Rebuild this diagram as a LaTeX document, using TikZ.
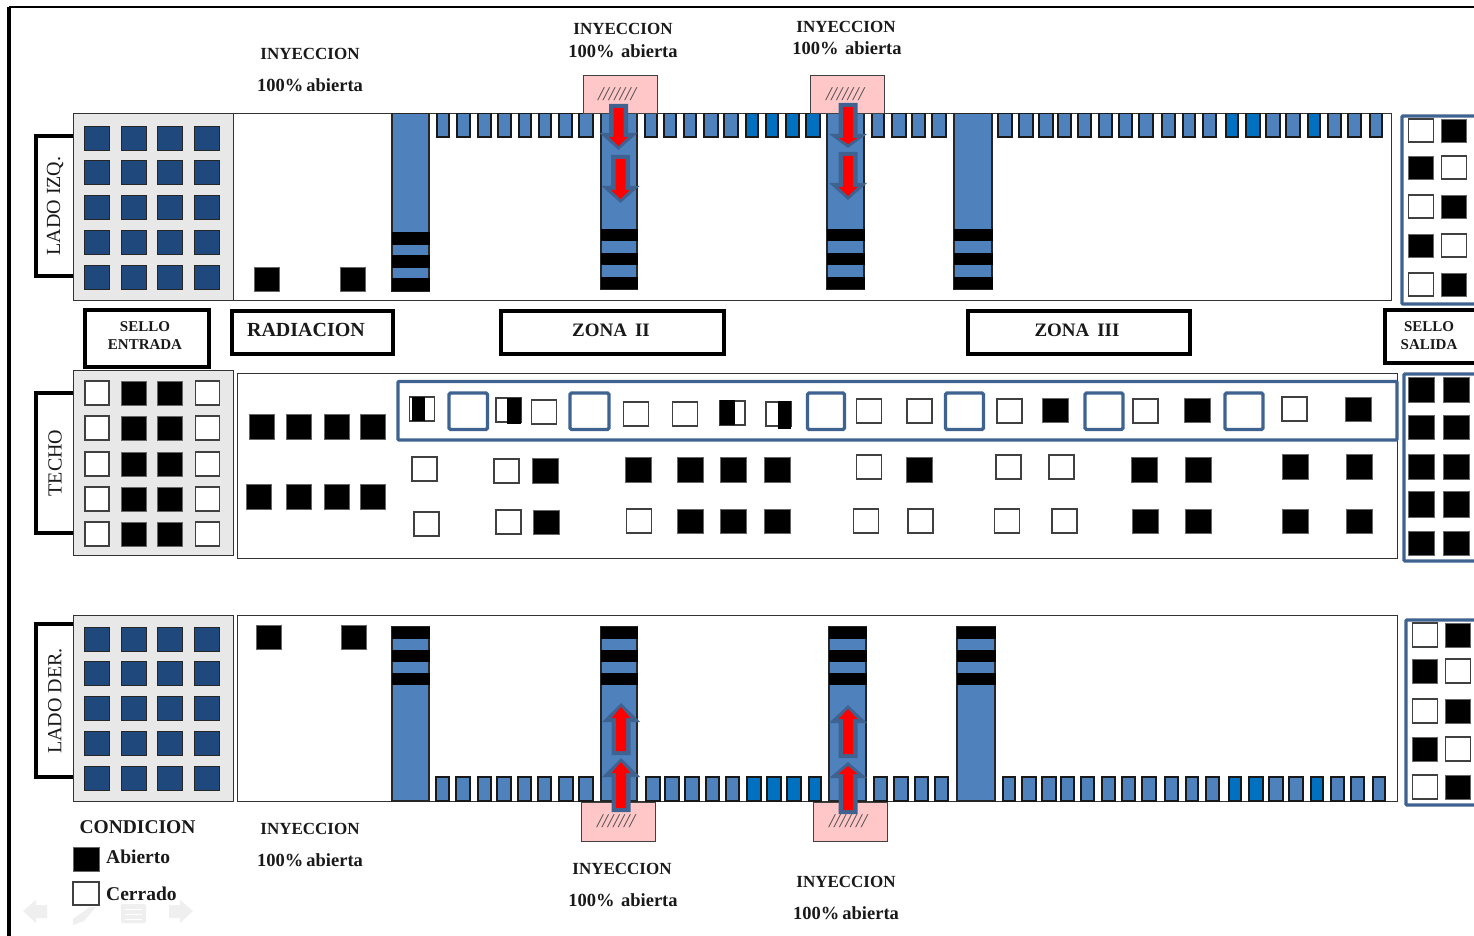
\documentclass[tikz,border=0pt]{standalone}
\usepackage{fontspec}
\setmainfont{Liberation Serif}
\usepackage{tikz}
\usetikzlibrary{positioning}
\definecolor{blockgrey}{HTML}{E8E8E8}
\definecolor{valveblue}{HTML}{1F497D}
\definecolor{colblue}{HTML}{4F81BD}
\definecolor{slotdark}{HTML}{0070C0}
\definecolor{framblue}{HTML}{3F6391}
\definecolor{pinkbox}{HTML}{FFC7C7}
\definecolor{navgrey}{HTML}{EFEFEF}
\tikzset{
  bandbox/.style={draw=black!80, line width=1pt, fill=white},
  greybox/.style={draw=black!80, line width=1pt, fill=blockgrey},
  valvedark/.style={draw=black!85, line width=0.9pt, fill=valveblue},
  valveopen/.style={draw=black!60, line width=0.6pt, fill=black},
  valveshut/.style={draw=black!75, line width=1.1pt, fill=white},
  bigvalve/.style={draw=framblue, line width=3.4pt, fill=none, rounded corners=1.5pt},
  bluerim/.style={draw=framblue, line width=3.4pt, fill=none, rounded corners=1pt},
  slotbar/.style={draw=black!90, line width=1.3pt, fill=colblue},
  slotdeep/.style={draw=black!90, line width=1.3pt, fill=slotdark},
  colbar/.style={draw=black!85, line width=1.2pt, fill=colblue},
  pinkinj/.style={draw=black!75, line width=1pt, fill=pinkbox},
  labelbox/.style={draw=black, line width=3.4pt, fill=white},
  sidebox/.style={draw=black, line width=3.4pt},
  boldtxt/.style={font=\fontsize{#1}{#1}\selectfont\bfseries, inner sep=0pt, text=black!90},
  sidetxt/.style={font=\fontsize{20}{20}\selectfont, inner sep=0pt, rotate=90, text=black!90},
  hatchtxt/.style={font=\fontsize{19.5}{20}\selectfont\itshape, inner sep=0pt, text=black!70},
  navicon/.style={fill=navgrey, draw=none}
}
% columna con tres bandas negras
\newcommand{\colbands}[8]{
    \draw[colbar] (#1,#3) rectangle (#2,#4);
    \foreach \b in {#5,#6,#7} {
        \fill[black] (#1-0.5,\b) rectangle (#2+0.5,\b+#8);
    }
}
% flecha de inyeccion (x, inicio, base de punta, punta)
\newcommand{\injarrow}[4]{
    \pgfmathsetmacro{\sg}{#3>#2 ? 1 : -1}
    \fill[framblue] (#1-9.5,#2) -- (#1+9.5,#2) -- (#1+9.5,#3) -- (#1+19,#3) -- (#1,#4) -- (#1-19,#3) -- (#1-9.5,#3) -- cycle;
    \fill[red] (#1-5,#2+4*\sg) -- (#1+5,#2+4*\sg) -- (#1+5,#3+4*\sg) -- (#1+9.5,#3+4*\sg) -- (#1,#4-4*\sg) -- (#1-9.5,#3+4*\sg) -- (#1-5,#3+4*\sg) -- cycle;
}
% texto de inyeccion en dos lineas
\newcommand{\inylabel}[6]{
    \node[boldtxt=17] (iny#1) at (#2,#3) {INYECCION};
    \node[boldtxt=18.5] (pct#1) at (#4,#5) {#6};
}
\begin{document}
\begin{tikzpicture}[x=1pt, y=-1pt]
    \clip (0,0) rectangle (1474,936);
    \fill[white] (0,0) rectangle (1474,936);

    % Marco exterior
    \draw[black, line width=4pt] (9,936) -- (9,7);
    \draw[black, line width=2pt] (9,7) -- (1474,7);

    % ==========================================
    % 1. LADO IZQ.
    % ==========================================
    \draw[sidebox] (73,136) -- (36,136) -- (36,276) -- (73,276);
    \node[sidetxt] (ladoizq) at (55,206) {LADO IZQ.};
    \draw[bandbox] (73,113.5) rectangle (1391,300);
    \draw[greybox] (73,113.5) rectangle (233,300);
    \foreach \y in {126,160,195,230,265}
        \foreach \x in {84.5,121.5,157.5,194.5}
            \draw[valvedark] (\x,\y) rectangle ++(25,24);
    \foreach \x in {254,340}
        \draw[valveopen] (\x,267) rectangle ++(25,24);

    \foreach \a/\b in {437/449, 457/470, 478/491, 498/511, 519/531, 539/551, 559/572, 579/593,
        645/657, 664/676, 684/696, 704/718, 724/738, 872/884, 892/906, 912/925, 932/946,
        998/1012, 1019/1033, 1039/1053, 1058/1071, 1078/1091, 1099/1112, 1119/1132, 1139/1153,
        1162/1175, 1183/1195, 1203/1216, 1266/1280, 1286/1300, 1328/1341, 1348/1361, 1370/1382}
        \draw[slotbar] (\a,113.5) rectangle (\b,137);
    \foreach \a/\b in {746/758, 766/778, 786/799, 806/820, 1226/1238, 1246/1260, 1308/1320}
        \draw[slotdeep] (\a,113.5) rectangle (\b,137);

    \colbands{392}{429}{113.5}{291}{232}{255}{278}{12.5}
    \colbands{601}{637}{113.5}{289}{229}{253}{277}{12}
    \colbands{827}{864}{113.5}{289}{229}{253}{277}{12}
    \colbands{954}{992}{113.5}{289}{229}{253}{277}{12}

    \draw[pinkinj] (583,75.5) rectangle (657,113.5);
    \draw[pinkinj] (810.5,75.5) rectangle (884,113.5);
    \node[hatchtxt] (hatcha) at (617,94) {///////};
    \node[hatchtxt] (hatchb) at (845,94) {///////};
    \injarrow{618.5}{104}{133}{150}
    \injarrow{620.5}{155}{186}{203}
    \injarrow{848}{103}{134}{148}
    \injarrow{848}{152}{183}{200}

    \inylabel{a}{310}{54}{310}{85}{100\%\,abierta}
    \inylabel{b}{623}{29}{623}{51}{100\%\hspace{0.35em}abierta}
    \inylabel{c}{846}{27}{847}{48}{100\%\hspace{0.35em}abierta}

    % Sello de salida superior
    \foreach \y/\p/\q in {119/valveshut/valveopen, 156/valveopen/valveshut, 195/valveshut/valveopen, 234/valveopen/valveshut, 273/valveshut/valveopen} {
        \draw[\p] (1408.5,\y) rectangle ++(25,23);
        \draw[\q] (1441.5,\y) rectangle ++(25,23);
    }
    \draw[bluerim] (1402,116) rectangle (1490,304);

    % ==========================================
    % 2. ETIQUETAS DE ZONA
    % ==========================================
    \draw[labelbox] (85,310) rectangle (209,367);
    \node[boldtxt=15, align=center] (selloent) at (145,335.5) {SELLO\\[3.5pt]ENTRADA};
    \draw[labelbox] (232,311) rectangle (393,354);
    \node[boldtxt=20] (radiacion) at (306,330) {RADIACION};
    \draw[labelbox] (501,311) rectangle (724,354);
    \node[boldtxt=19] (zonados) at (611,330) {ZONA\, II};
    \draw[labelbox] (968,311) rectangle (1190,354);
    \node[boldtxt=19] (zonatres) at (1077,330) {ZONA\, III};
    \draw[labelbox] (1385,310) rectangle (1490,363);
    \node[boldtxt=15, align=center] (sellosal) at (1429,335.5) {SELLO\\[3.5pt]SALIDA};

    % ==========================================
    % 3. TECHO
    % ==========================================
    \draw[sidebox] (73,393) -- (36,393) -- (36,533) -- (73,533);
    \node[sidetxt] (techo) at (55,463) {TECHO};
    \draw[greybox] (73,370) rectangle (233,555);
    \draw[bandbox] (237,373) rectangle (1397,558);
    \foreach \y in {381,416,452,487,522} {
        \foreach \x in {85,195.5}
            \draw[valveshut] (\x,\y) rectangle ++(24,24);
        \foreach \x in {121.5,157.5}
            \draw[valveopen] (\x,\y) rectangle ++(25,24);
    }

    % Radiacion
    \foreach \x/\y in {249.5/414, 286.5/414, 324.5/414, 360.5/414, 246.5/484, 286.5/484, 324.5/484, 360.5/484}
        \draw[valveopen] (\x,\y) rectangle ++(25,25);

    % Fila superior
    \draw[bluerim] (398,381.5) rectangle (1397,440);
    \foreach \a/\b in {449/487.5, 570/609, 807.5/844.5, 945.5/983.5, 1085/1123, 1225/1263}
        \draw[bigvalve] (\a,393) rectangle (\b,429.5);
    \foreach \x/\y in {409.5/397, 496/398, 720/401, 766/402}
        \draw[valveshut] (\x,\y) rectangle ++(25,24);
    \fill[black] (412,397) rectangle (425,421);
    \fill[black] (507,398) rectangle (521,424);
    \fill[black] (720,400) rectangle (735,425);
    \fill[black] (778,401) rectangle (791,429);
    \foreach \x/\y in {531.5/400, 623.5/402, 672.5/402, 856.5/399, 907/399, 997/399, 1133/399, 1282/397}
        \draw[valveshut] (\x,\y) rectangle ++(25,24);
    \foreach \x/\y in {1042.5/398, 1184.5/398, 1345.5/397}
        \draw[valveopen] (\x,\y) rectangle ++(26,24);

    % Fila media
    \foreach \x/\y in {412/457, 494/459, 856.5/455, 996/455, 1049/455}
        \draw[valveshut] (\x,\y) rectangle ++(25,24);
    \foreach \x/\y in {532.5/458, 625.5/457, 677.5/457, 720.5/457, 764.5/457, 906.5/457, 1131.5/457, 1185.5/457, 1282.5/454, 1346.5/454}
        \draw[valveopen] (\x,\y) rectangle ++(26,25);

    % Fila inferior
    \foreach \x/\y in {414/512, 496/510, 626.5/509, 853.5/509, 908/509, 994.5/509, 1052/509}
        \draw[valveshut] (\x,\y) rectangle ++(25,24);
    \foreach \x/\y in {533.5/510, 677.5/509, 720.5/509, 764.5/509, 1132.5/509, 1185.5/509, 1282.5/509, 1346.5/509}
        \draw[valveopen] (\x,\y) rectangle ++(26,24);

    % Sello de salida central
    \foreach \y/\h in {377/25, 415/24, 454/25, 491/26, 531/24}
        \foreach \x in {1408.5,1443.5}
            \draw[valveopen] (\x,\y) rectangle ++(26,\h);
    \draw[bluerim] (1404,374) rectangle (1490,561);

    % ==========================================
    % 4. LADO DER.
    % ==========================================
    \draw[sidebox] (73,624) -- (36,624) -- (36,777) -- (73,777);
    \node[sidetxt] (ladoder) at (55,701) {LADO DER.};
    \draw[greybox] (73,615) rectangle (233,801);
    \draw[bandbox] (237,615) rectangle (1397,801);
    \foreach \y in {627,661,696,731,766}
        \foreach \x in {84.5,121.5,157.5,194.5}
            \draw[valvedark] (\x,\y) rectangle ++(25,24);
    \foreach \x in {256.5,341.5}
        \draw[valveopen] (\x,625) rectangle ++(25,24);

    \foreach \a/\b in {436/449, 456/470, 478/491, 497/511, 518/531, 538/551, 559/573, 579/593,
        646/660, 665/679, 685/699, 706/719, 726/739, 874/887, 894/908, 915/928, 935/948,
        1003/1015, 1022/1036, 1042/1056, 1061/1074, 1081/1094, 1102/1115, 1122/1135, 1142/1156,
        1165/1178, 1186/1198, 1206/1219, 1269/1283, 1289/1303, 1331/1344, 1351/1364, 1373/1385}
        \draw[slotbar] (\a,777) rectangle (\b,801);
    \foreach \a/\b in {747/761, 767/781, 787/801, 809/821, 1229/1241, 1249/1263, 1311/1323}
        \draw[slotdeep] (\a,777) rectangle (\b,801);

    \colbands{392}{429}{627}{801}{627}{650}{673}{12}
    \colbands{601}{637}{627}{801}{627}{650}{673}{12}
    \colbands{829}{866}{627}{801}{627}{650}{673}{12}
    \colbands{957}{995}{627}{801}{627}{650}{673}{12}

    \draw[pinkinj] (581.5,802) rectangle (655.5,841);
    \draw[pinkinj] (813,802) rectangle (887,841);
    \node[hatchtxt] (hatchc) at (616,821) {///////};
    \node[hatchtxt] (hatchd) at (848,821) {///////};
    \injarrow{621}{755}{722}{703}
    \injarrow{621}{812}{777}{758}
    \injarrow{848}{758}{723}{705}
    \injarrow{848}{814}{778}{762}

    \inylabel{d}{310}{829}{310}{860}{100\%\,abierta}
    \inylabel{e}{622}{869}{623}{900}{100\%\hspace{0.35em}abierta}
    \inylabel{f}{846}{882}{846}{913}{100\%\,abierta}

    % Sello de salida inferior
    \foreach \y/\p/\q in {623/valveshut/valveopen, 659/valveopen/valveshut, 699/valveshut/valveopen, 737/valveopen/valveshut, 775/valveshut/valveopen} {
        \draw[\p] (1412.5,\y) rectangle ++(25,24);
        \draw[\q] (1445.5,\y) rectangle ++(25,24);
    }
    \draw[bluerim] (1406,620) rectangle (1490,805);

    % ==========================================
    % 5. CONDICION
    % ==========================================
    \node[boldtxt=19.5] (condicion) at (137.5,827) {CONDICION};
    \draw[valveopen] (73,847) rectangle (99,871);
    \draw[valveshut] (73,882) rectangle (99,905);
    \node[boldtxt=19.5, anchor=west] (abierto) at (106,857) {Abierto};
    \node[boldtxt=19.5, anchor=west] (cerrado) at (106,894) {Cerrado};

    % Iconos de presentacion
    \fill[navicon] (23,911) -- (36,900) -- (36,905) -- (47,905) -- (47,918) -- (36,918) -- (36,923) -- cycle;
    \fill[navicon] (73,925) -- (73,919) -- (90,907) -- (96,907) -- (84,921) -- cycle;
    \fill[navicon, rounded corners=2pt] (121,904) rectangle (146,923);
    \foreach \y in {909,914,919}
        \draw[white, line width=1pt] (125,\y) -- (142,\y);
    \fill[navicon] (193,911) -- (180,900) -- (180,905) -- (169,905) -- (169,918) -- (180,918) -- (180,923) -- cycle;
\end{tikzpicture}
\end{document}
